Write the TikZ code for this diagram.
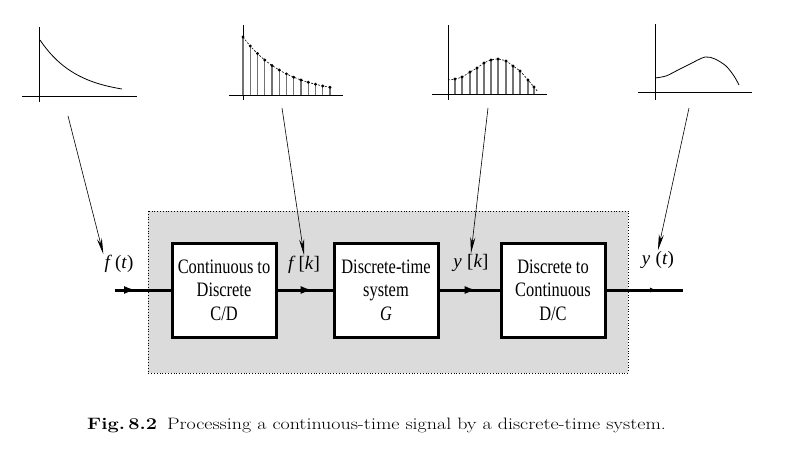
\documentclass[tikz,border=0pt]{standalone}
\usepackage{fontspec}
\newfontfamily\boxfont[FakeStretch=0.8]{Liberation Serif}
\newfontfamily\lblfont{Liberation Serif}
\usetikzlibrary{arrows.meta,decorations.markings}
\tikzset{
  blk/.style={draw=black, line width=3pt, fill=white, minimum width=104pt, minimum height=94pt, inner sep=0pt, align=center, font=\boxfont\fontsize{20.5}{23.5}\selectfont},
  sig/.style={line width=3pt},
  midarrow/.style={decoration={markings, mark=at position #1 with {\arrow{Latex[length=12pt,width=8pt]}}}, postaction={decorate}},
  smallmid/.style={decoration={markings, mark=at position #1 with {\arrow{Latex[length=7pt,width=5pt]}}}, postaction={decorate}},
  pointer/.style={line width=0.6pt, -{Stealth[length=16pt,width=5pt]}},
  axis/.style={line width=0.9pt},
  lbl/.style={font=\lblfont\fontsize{19}{21}\selectfont, inner sep=1pt},
  stem/.style={line width=1.4pt, black!55},
  env/.style={line width=0.6pt, dash pattern=on 2pt off 1.5pt},
}
\begin{document}
\begin{tikzpicture}[x=1pt,y=-1pt]
\useasboundingbox (0,0) rectangle (798,472);
% shaded region
\draw[fill=black!14, dotted, line width=0.8pt] (148,211) rectangle (628,373);
% blocks
\node[blk] (cd) at (224,290) {Continuous to\\Discrete\\C/D};
\node[blk] (g) at (386,290) {Discrete-time\\system\\\textit{G}};
\node[blk] (dc) at (553,290) {Discrete to\\Continuous\\D/C};
\coordinate (in) at (115,290);
\coordinate (out) at (683,290);
\draw[sig, midarrow=0.38] (in) -- (cd.west);
\draw[sig, midarrow=0.64] (cd.east) -- (g.west);
\draw[sig, midarrow=0.62] (g.east) -- (dc.west);
\draw[sig, smallmid=0.66] (dc.east) -- (out);
% labels
\node[lbl] (ft) at (119,264) {\textit{f}\,(\textit{t})};
\node[lbl] (fk) at (304,265) {\textit{f}\,[\textit{k}]};
\node[lbl] (yk) at (471,263) {\textit{y}\;[\textit{k}]};
\node[lbl] (yt) at (658,260) {\textit{y}\;(\textit{t})};
% graph 1
\draw[axis] (39,27) -- (39,102);
\draw[axis] (22,96) -- (137,96);
\draw[line width=0.8pt] plot[domain=40:122, samples=40, smooth] (\x, {95-55*exp(-0.027*(\x-40))});
\coordinate (g1) at (68,116);
% graph 2
\draw[axis] (243,25) -- (243,100);
\draw[axis] (229,95) -- (343,95);
\foreach \i in {0,...,12} {
  \pgfmathsetmacro{\xx}{243+7.25*\i}
  \pgfmathsetmacro{\yy}{95-58*0.845^\i}
  \draw[stem] (\xx,95) -- (\xx,\yy);
  \fill (\xx,\yy) circle (1.6pt);
}
\draw[env] plot[domain=243:331, samples=30, smooth] (\x, {95-58*exp(-0.02325*(\x-243))});
\coordinate (g2) at (282,108);
% graph 3
\draw[axis] (448,25) -- (448,100);
\draw[axis] (432,94) -- (547,94);
\foreach \xx/\yy in {455/79,462/77,470/72,477/68,484/63,491/60,498/59,506/61,513/66,520/71,528/80,534/87} {
  \draw[stem] (\xx,94) -- (\xx,\yy);
  \fill (\xx,\yy) circle (1.6pt);
}
\draw[env] plot[smooth] coordinates {(448,80) (455,79) (462,77) (470,72) (477,68) (484,63) (491,60) (498,59) (506,61) (513,66) (520,71) (528,80) (534,87) (538,92)};
\coordinate (g3) at (488,108);
% graph 4
\draw[axis, line width=0.7pt] (655,24) -- (655,100);
\draw[axis] (638,92) -- (752,92);
\draw[line width=0.8pt] plot[smooth] coordinates {(655,78) (666,76) (678,70) (690,64) (705,57) (715,59) (726,66) (734,76) (739,85)};
\coordinate (g4) at (689,108);
% pointers
\draw[pointer] (g1) -- (ft.north west);
\draw[pointer] (g2) -- (fk.north);
\draw[pointer] (g3) -- (yk.north);
\draw[pointer] (g4) -- (yt.north);
% caption
\node[anchor=base west, inner sep=0pt] (cap) at (87,429) {\scalebox{1.21}[1]{\fontsize{16.5}{20}\selectfont\textbf{Fig.\,8.2}\enspace Processing a continuous-time signal by a discrete-time system.}};
\end{tikzpicture}
\end{document}
